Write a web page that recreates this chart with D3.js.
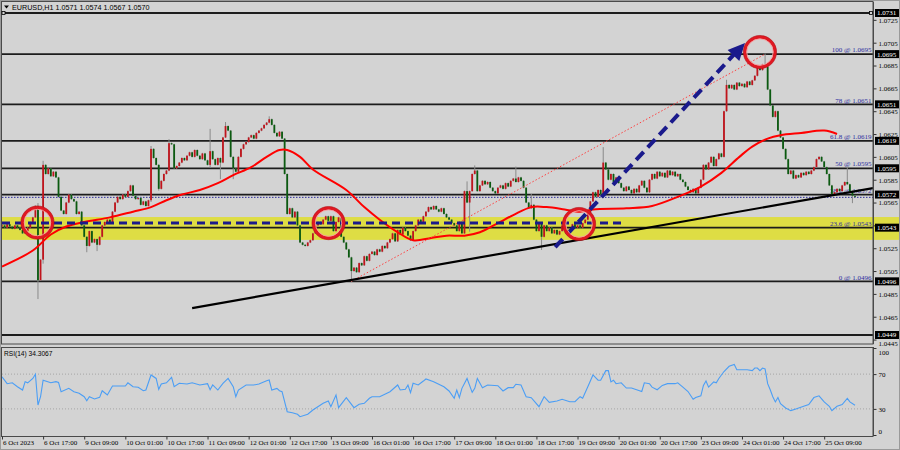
<!DOCTYPE html>
<html><head><meta charset="utf-8">
<script src="https://cdn.jsdelivr.net/npm/d3@7"></script>
<style>
html,body{margin:0;padding:0;background:#d3d3d3;}
svg{display:block;}
</style></head><body>
<svg id="c" width="900" height="450"></svg>
<script>
// ---------- DATA ----------
// hourly closes, expressed as (price - 1) * 10000 (e.g. 543 -> 1.0543)
const closesPips = [
545,543,546,544,542,545,543,541,538,540,543,548,552,562,497,515,
598,590,595,588,592,587,570,558,555,565,572,568,566,555,557,545,
535,527,540,530,533,528,535,545,548,550,547,557,565,570,568,572,
570,575,580,571,568,569,563,566,562,567,612,604,598,577,584,590,
593,617,616,595,597,600,604,602,606,609,605,611,606,603,608,602,
598,610,603,598,604,600,622,632,628,605,595,592,605,612,616,618,
622,624,621,626,628,630,633,635,638,633,626,623,627,621,590,555,
560,552,557,545,530,528,527,530,532,538,545,548,546,550,553,549,
553,540,548,552,535,530,524,517,505,508,504,512,510,518,514,520,
522,519,524,522,527,525,530,533,538,531,541,537,543,540,536,532,
540,545,550,548,553,557,561,559,562,559,557,560,555,552,550,547,
545,540,548,538,575,565,575,590,593,575,580,584,581,583,578,575,
573,578,580,577,582,579,584,586,583,587,584,578,565,560,563,550,
540,547,535,545,540,543,538,541,537,540,545,541,538,542,546,543,
545,543,547,550,556,566,574,570,576,572,600,594,585,590,583,587,
582,578,575,579,576,573,577,574,580,584,578,574,585,590,586,592,
588,591,587,593,589,592,588,590,585,583,579,576,574,577,573,578,
585,598,594,600,605,597,603,608,605,645,668,665,668,664,670,667,
669,666,671,668,672,676,683,681,686,684,664,650,640,645,628,622,
612,603,590,593,586,589,587,591,589,592,590,593,596,603,605,601,
596,590,580,572,574,577,575,580,583,581,575,571,570
];
const firstOpenPips = 544;
// bars with visible wicks: [bar, high, low] in pips
const wickBars = [
[14,564,481],[16,601,512],[33,535,522],[37,533,523],[58,614,566],[61,598,576],
[65,620,593],[81,629,596],[85,604,586],[87,635,622],[90,605,586],[104,640,635],
[136,517,496],[181,583,565],[182,575,540],[184,597,590],[200,596,583],[206,572,560],
[210,547,524],[234,613,572],[282,672,645],[297,695,684],[329,596,581],[331,575,565]
];
// moving average (red), read at selected bars
const maBars = [0,12,19,25,32,42,51,58,64,70,77,84,90,97,103,108,111,116,121,134,141,147,154,160,167,173,180,186,193,199,206,212,219,225,230,243,253,263,272,280,287,292,298,303,311,320,325];
const maValues = [509,523,537,544,548,552,557,561,567,572,576,582,589,596,605,611,611,605,594,576,561,550,539,532,534,536,536,539,547,554,561,561,559,557,559,560,562,570,579,591,605,614,621,624,626,628,625];
// RSI(14)
const rsiBars = [0,2,4,6,8,9,10,12,13,14,15,16,19,21,22,23,26,28,30,32,33,34,36,38,39,41,43,46,48,49,51,53,55,56,58,60,61,62,64,66,67,69,72,74,77,80,81,82,84,86,88,90,91,92,95,98,100,103,104,105,107,108,109,111,113,115,116,119,121,125,127,128,130,131,134,137,139,141,143,144,147,151,154,155,157,158,159,160,162,164,165,168,172,174,176,177,178,179,181,183,184,185,187,189,193,195,197,199,200,202,204,206,209,211,213,216,218,221,223,225,226,228,230,232,233,235,236,237,238,239,241,243,245,247,249,250,252,253,255,257,259,262,263,265,267,269,270,272,273,274,275,277,278,279,281,283,285,286,288,290,292,293,294,295,296,297,298,299,300,301,302,303,305,307,309,312,314,316,318,320,322,323,325,327,329,330,332];
const rsiValues = [67,59,60,55.5,51.7,61.3,60,65,69.8,34.5,44,63,60,61.3,60.5,49.8,53.6,49.8,47.9,44,39.4,44,41.4,43.3,50.9,46,56.3,56.3,56.3,60,55.5,54.8,50.9,51.7,69,65,52.5,58.6,60,66.3,55.5,59.4,58.6,60,57.5,59,52,57.5,51.7,59.4,65,55.5,44,51.7,57.5,57.5,58.6,62.4,63.2,51.7,53.6,50.9,49.8,26.8,25.6,23.8,21,23.8,28.7,36.4,39,32.5,46,31.4,42.9,31.4,35.3,36.4,42.2,44,44,49.8,57.5,51.7,52.5,57.5,48.6,59.4,57.5,62,64.4,61.3,55.5,50.6,42.2,51.7,42.9,53.6,65,49,53.6,65,54.4,57.5,56.7,50.6,54.4,54.4,58.3,57.5,44,42.9,32.5,44,37.6,39,41,38.3,38.3,44,42.2,55.5,69,63,63,74,74,61,63,59,60,54,54,52,50,60,59,55,52,57,59,59,60,55,50,41,43,45,57,62,55,61,60,65,73,79,81,75,75,75,74,77,77,74,77,76,59,52,44,38,43,36,31,28,30,33,35,43,45,38,33,28,33,35,42,38,34.3];
// horizontal levels
const levelPrices = [1.0731,1.0695,1.0651,1.0619,1.0595,1.0572,1.0543,1.0496,1.0449];
const fibNames = ["100","78","61.8","50","38.2","23.6","0"];
const fibPrices = [1.0695,1.0651,1.0619,1.0595,1.0572,1.0543,1.0496];
const priceTicks = [1.0725,1.0705,1.0685,1.0665,1.0645,1.0625,1.0605,1.0585,1.0565,1.0545,1.0525,1.0505,1.0485,1.0465,1.0445];
const hiddenTickLabels = [1.0545]; // covered by the 1.0543 marker in the reference
const rsiTicks = [0,30,70,100];
const timeLabels = ["6 Oct 2023","6 Oct 17:00","9 Oct 09:00","10 Oct 01:00","10 Oct 17:00","11 Oct 09:00","12 Oct 01:00","12 Oct 17:00","13 Oct 09:00","16 Oct 01:00","16 Oct 17:00","17 Oct 09:00","18 Oct 01:00","18 Oct 17:00","19 Oct 09:00","20 Oct 01:00","20 Oct 17:00","23 Oct 09:00","24 Oct 01:00","24 Oct 17:00","25 Oct 09:00"];
const timeTickBars = [0,16,32,48,64,80,96,112,128,144,160,176,192,208,224,240,256,272,288,304,320];
const zoneBand = [1.05323, 1.05523];
const supportDashPrice = 1.0547, supportDashBars = [0, 242];
const trendBars = [74, 339], trendPrices = [1.04726, 1.05777];
const fibLineBars = [136, 297], fibLinePrices = [1.0496, 1.0695];
const arrowBars = [215.3, 289.2], arrowPrices = [1.0526, 1.07047];
const circleBars = [13.8, 127.1, 224.6, 295];
const circlePrices = [1.05475, 1.0547, 1.05462, 1.06968];
const bidDotPrice = 1.0570;
const header = "EURUSD,H1  1.0571 1.0574 1.0567 1.0570";
const rsiLabel = "RSI(14) 34.3067";

// ---------- CHART ----------
const svg = d3.select("#c");
const W = 900, H = 450;
const L = 2, R = 873, mainTop = 2, mainBot = 344, rsiTop = 347, rsiBot = 436;
const x = d3.scaleLinear().domain([0, 339]).range([L, R]);
const y = d3.scaleLinear().domain([1.0449, 1.0731]).range([335, 13]);
const yr = d3.scaleLinear().domain([0, 100]).range([435, 348]);
const P = v => 1 + v / 10000;
const serif = "'Liberation Serif','Times New Roman',serif";
const sans = "'Liberation Sans',Arial,sans-serif";

svg.append("rect").attr("width", W).attr("height", H).attr("fill", "#d3d3d3");
const defs = svg.append("defs");
defs.append("clipPath").attr("id", "cm").append("rect").attr("x", L).attr("y", mainTop).attr("width", R - L).attr("height", mainBot - mainTop);
defs.append("clipPath").attr("id", "cr").append("rect").attr("x", L).attr("y", rsiTop).attr("width", R - L).attr("height", rsiBot - rsiTop);

// yellow zone (spans to image edge)
svg.append("rect").attr("x", 0).attr("width", W).attr("y", y(zoneBand[1])).attr("height", y(zoneBand[0]) - y(zoneBand[1]))
  .attr("fill", "#dedd3c").attr("opacity", 0.95);

const main = svg.append("g").attr("clip-path", "url(#cm)");
// levels
main.selectAll("line.lvl").data(levelPrices).join("line").attr("class", "lvl")
  .attr("x1", L).attr("x2", R).attr("y1", d => y(d)).attr("y2", d => y(d))
  .attr("stroke", "#1c1c1c").attr("stroke-width", 1.8);
main.append("line").attr("x1", L).attr("x2", R).attr("y1", y(bidDotPrice) + 0.5).attr("y2", y(bidDotPrice) + 0.5)
  .attr("stroke", "#2a2a9a").attr("stroke-width", 1).attr("stroke-dasharray", "1.5,1.5");

// fib labels
main.selectAll("text.fib").data(fibPrices).join("text").attr("class", "fib")
  .attr("x", R - 1.5).attr("y", d => y(d) - 1.8).attr("text-anchor", "end")
  .attr("font-family", serif).attr("font-size", 7).attr("fill", "#2e2ea0")
  .text((d, i) => fibNames[i] + " @ " + d.toFixed(4));

// candles
const bars = closesPips.map((c, i) => {
  const o = i === 0 ? firstOpenPips : closesPips[i - 1];
  return { i, o: P(o), c: P(c), h: P(Math.max(o, c)), l: P(Math.min(o, c)) };
});
wickBars.forEach(([i, h, l]) => { bars[i].h = P(h); bars[i].l = P(l); });
const cg = main.append("g");
cg.selectAll("line.w").data(bars).join("line").attr("class", "w")
  .attr("x1", d => x(d.i)).attr("x2", d => x(d.i)).attr("y1", d => y(d.h) - 0.6).attr("y2", d => y(d.l) + 0.6)
  .attr("stroke", "#8a8a8a").attr("stroke-width", 1);
cg.selectAll("rect.b").data(bars).join("rect").attr("class", "b")
  .attr("x", d => x(d.i) - 0.9).attr("width", 1.8)
  .attr("y", d => y(Math.max(d.o, d.c))).attr("height", d => Math.max(0.8, Math.abs(y(d.o) - y(d.c))))
  .attr("fill", d => d.c >= d.o ? "#c0141c" : "#0b5a10");

// moving average
const maPts = maBars.map((b, i) => [b, P(maValues[i])]);
main.append("path").attr("d", d3.line().x(d => x(d[0])).y(d => y(d[1])).curve(d3.curveCatmullRom)(maPts))
  .attr("fill", "none").attr("stroke", "#ff0000").attr("stroke-width", 2);

// fib dotted diagonal
main.append("line").attr("x1", x(fibLineBars[0])).attr("y1", y(fibLinePrices[0])).attr("x2", x(fibLineBars[1])).attr("y2", y(fibLinePrices[1]))
  .attr("stroke", "#ff4040").attr("stroke-width", 1).attr("stroke-dasharray", "1.5,2");

// trendline
main.append("line").attr("x1", x(trendBars[0])).attr("y1", y(trendPrices[0])).attr("x2", x(trendBars[1])).attr("y2", y(trendPrices[1]))
  .attr("stroke", "#000").attr("stroke-width", 2.2);

// blue dashed support
main.append("line").attr("x1", x(supportDashBars[0])).attr("x2", x(supportDashBars[1])).attr("y1", y(supportDashPrice)).attr("y2", y(supportDashPrice))
  .attr("stroke", "#1a1a8c").attr("stroke-width", 3).attr("stroke-dasharray", "8,5");

// arrow
main.append("line").attr("x1", x(arrowBars[0])).attr("y1", y(arrowPrices[0])).attr("x2", x(arrowBars[1]) - 6).attr("y2", y(arrowPrices[1]) + 6)
  .attr("stroke", "#1a1a8c").attr("stroke-width", 4).attr("stroke-dasharray", "11,6");
{
  const x2 = x(arrowBars[1]), y2 = y(arrowPrices[1]);
  const ang = Math.atan2(y2 - y(arrowPrices[0]), x2 - x(arrowBars[0]));
  const len = 17, wid = 8;
  const bx = x2 - len * Math.cos(ang), by = y2 - len * Math.sin(ang);
  const px = -Math.sin(ang) * wid, py = Math.cos(ang) * wid;
  main.append("path").attr("d", `M${x2},${y2}L${bx + px},${by + py}L${bx - px},${by - py}Z`).attr("fill", "#1a1a8c");
}

// circles
const circ = main.selectAll("g.circ").data(circleBars).join("g").attr("class", "circ")
  .attr("transform", (d, i) => `translate(${x(d)},${y(circlePrices[i])})`);
circ.append("circle").attr("r", 15).attr("fill", "none").attr("stroke", "#e01822").attr("stroke-width", 3.2);
circ.append("circle").attr("r", 13.2).attr("fill", "none").attr("stroke", "#f4a0a0").attr("stroke-width", 0.9);
circ.append("circle").attr("r", 16.6).attr("fill", "none").attr("stroke", "#b01018").attr("stroke-width", 0.6);

// frames
svg.append("rect").attr("x", 0.5).attr("y", 0.5).attr("width", W - 1).attr("height", H - 1).attr("fill", "none").attr("stroke", "#9a9a9a");
svg.append("rect").attr("x", 1.5).attr("y", 1.5).attr("width", R - 1.5).attr("height", mainBot - 1.5).attr("fill", "none").attr("stroke", "#4a4a4a").attr("stroke-width", 1);
svg.append("rect").attr("x", 1.5).attr("y", rsiTop + 0.5).attr("width", R - 1.5).attr("height", rsiBot - rsiTop).attr("fill", "none").attr("stroke", "#4a4a4a").attr("stroke-width", 1);

// small anchor squares on top level
[[3.5, y(1.0731)], [R - 2, y(1.0731)]].forEach(([sx, sy]) =>
  svg.append("rect").attr("x", sx - 1.5).attr("y", sy - 1.5).attr("width", 3).attr("height", 3).attr("fill", "#d3d3d3").attr("stroke", "#000").attr("stroke-width", 0.8));

// price axis
const ay = svg.append("g").attr("transform", `translate(${R + 0.5},0)`)
  .call(d3.axisRight(y).tickValues(priceTicks)
    .tickFormat(d => hiddenTickLabels.includes(d) ? "" : d3.format(".4f")(d)).tickSize(3).tickPadding(2));
ay.select(".domain").attr("stroke", "#4a4a4a").attr("d", `M0,${mainTop}V${mainBot}`);
ay.selectAll("line").attr("stroke", "#333");
ay.selectAll("text").attr("font-family", serif).attr("font-size", 7).attr("fill", "#000")
  .attr("dy", d => d === 1.0445 ? "0.85em" : "0.35em");

// highlighted level labels
const hl = svg.selectAll("g.hl").data(levelPrices).join("g").attr("class", "hl")
  .attr("transform", d => `translate(${R + 2},${y(d)})`);
hl.append("rect").attr("x", 0).attr("y", -4).attr("width", 24).attr("height", 8).attr("fill", "#000");
hl.append("text").attr("x", 2).attr("y", 0).attr("dy", "0.35em").attr("font-family", serif).attr("font-size", 7)
  .attr("fill", "#fff").text(d => d.toFixed(4));

// header
svg.append("path").attr("d", "M4,5.5L9,5.5L6.5,8.5Z").attr("fill", "#000");
svg.append("text").attr("x", 12).attr("y", 9.8).attr("font-family", sans).attr("font-size", 7.2).attr("fill", "#000").text(header);

// RSI panel
const rg = svg.append("g").attr("clip-path", "url(#cr)");
rg.selectAll("line.lv").data([70, 30]).join("line").attr("class", "lv")
  .attr("x1", L).attr("x2", R).attr("y1", d => yr(d)).attr("y2", d => yr(d))
  .attr("stroke", "#a5a5a5").attr("stroke-width", 1).attr("stroke-dasharray", "1,2");
const rsiPts = rsiBars.map((b, i) => [b, rsiValues[i]]);
rg.append("path").attr("d", d3.line().x(d => x(d[0])).y(d => yr(d[1]))(rsiPts))
  .attr("fill", "none").attr("stroke", "#4b9ef5").attr("stroke-width", 1.1);
svg.append("text").attr("x", 4).attr("y", 356).attr("font-family", sans).attr("font-size", 6.6).attr("fill", "#000").text(rsiLabel);

const ar = svg.append("g").attr("transform", `translate(${R + 0.5},0)`)
  .call(d3.axisRight(yr).tickValues(rsiTicks).tickFormat(d3.format("d")).tickSize(3).tickPadding(2));
ar.select(".domain").attr("stroke", "#4a4a4a").attr("d", `M0,${rsiTop}V${rsiBot}`);
ar.selectAll("line").attr("stroke", "#333");
ar.selectAll("text").attr("font-family", serif).attr("font-size", 7).attr("fill", "#000")
  .attr("dy", d => d === 100 ? "0.9em" : d === 0 ? "-0.2em" : "0.35em");

// time axis
const ax = svg.append("g").attr("transform", `translate(0,${rsiBot + 0.5})`)
  .call(d3.axisBottom(x).tickValues(timeTickBars).tickFormat((d, i) => timeLabels[i]).tickSize(3).tickPadding(1));
ax.select(".domain").remove();
ax.selectAll("line").attr("stroke", "#333");
ax.selectAll("text").attr("font-family", serif).attr("font-size", 7).attr("fill", "#000")
  .attr("text-anchor", "start").attr("x", 0.5);
</script>
</body></html>
